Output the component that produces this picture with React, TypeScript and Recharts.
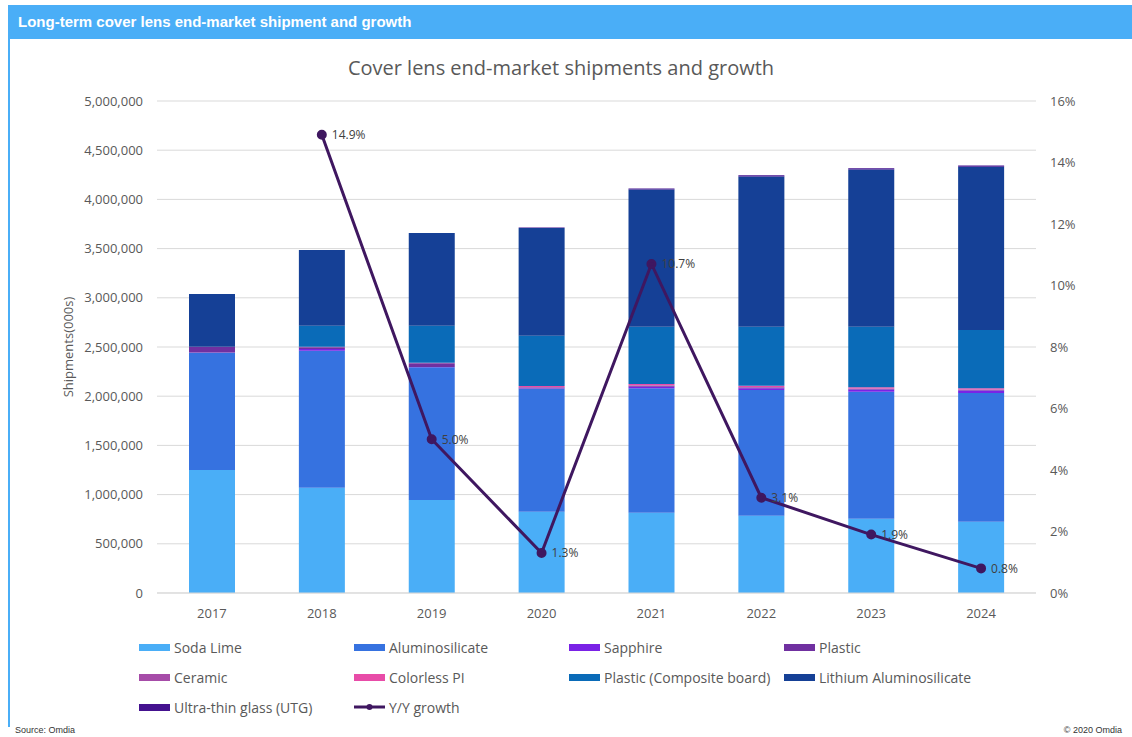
import React from "react";
import {
  ComposedChart,
  Bar,
  Line,
  XAxis,
  YAxis,
  CartesianGrid,
  LabelList,
  Label,
} from "recharts";

// values in thousands of units (000s)
const YEARS = ["2017", "2018", "2019", "2020", "2021", "2022", "2023", "2024"];
const SODA_LIME = [1250000, 1070000, 945000, 825000, 815000, 785000, 755000, 725000];
const ALUMINOSILICATE = [1192000, 1392000, 1349000, 1251000, 1266000, 1278000, 1291000, 1308000];
const SAPPHIRE = [3000, 18000, 4000, 5000, 15000, 18000, 22000, 24000];
const PLASTIC = [55000, 18000, 38000, 8000, 10000, 8000, 6000, 6000];
const CERAMIC = [3000, 4000, 4000, 5000, 5000, 4000, 4000, 4000];
const COLORLESS_PI = [0, 0, 0, 10000, 13000, 14000, 12000, 14000];
const COMPOSITE = [0, 213000, 376000, 511000, 582000, 599000, 616000, 592000];
const LITHIUM = [536000, 770000, 943000, 1095000, 1394000, 1527000, 1599000, 1660000];
const UTG = [0, 0, 0, 5000, 10000, 12000, 12000, 12000];
const GROWTH = [null, 14.9, 5.0, 1.3, 10.7, 3.1, 1.9, 0.8];

const LEFT_TICKS = [0, 500000, 1000000, 1500000, 2000000, 2500000, 3000000, 3500000, 4000000, 4500000, 5000000];
const RIGHT_TICKS = [0, 2, 4, 6, 8, 10, 12, 14, 16];

const SERIES = [
  { key: "sodaLime", name: "Soda Lime", color: "#4aaef7", values: SODA_LIME },
  { key: "alumino", name: "Aluminosilicate", color: "#3672e0", values: ALUMINOSILICATE },
  { key: "sapphire", name: "Sapphire", color: "#7a22e6", values: SAPPHIRE },
  { key: "plastic", name: "Plastic", color: "#7030a0", values: PLASTIC },
  { key: "ceramic", name: "Ceramic", color: "#a64ca8", values: CERAMIC },
  { key: "pi", name: "Colorless PI", color: "#e84ca8", values: COLORLESS_PI },
  { key: "composite", name: "Plastic (Composite board)", color: "#0a6bb8", values: COMPOSITE },
  { key: "lithium", name: "Lithium Aluminosilicate", color: "#154096", values: LITHIUM },
  { key: "utg", name: "Ultra-thin glass (UTG)", color: "#44128f", values: UTG },
];

const LINE_COLOR = "#3f1760";
const FONT = "'Open Sans', sans-serif";
const AXIS_TEXT = "#595959";

const data = YEARS.map((year, i) => {
  const row: Record<string, any> = { year, growth: GROWTH[i] };
  SERIES.forEach((s) => (row[s.key] = s.values[i]));
  return row;
});

function LegendBlock() {
  const items = [
    ...SERIES.map((s) => ({ name: s.name, color: s.color, line: false })),
    { name: "Y/Y growth", color: LINE_COLOR, line: true },
  ];
  return (
    <div
      style={{
        position: "absolute",
        left: 139,
        top: 637,
        width: 880,
        display: "grid",
        gridTemplateColumns: "215px 215px 215px 235px",
        rowGap: 10,
        fontFamily: FONT,
        fontSize: 14,
        color: AXIS_TEXT,
      }}
    >
      {items.map((it) => (
        <div key={it.name} style={{ display: "flex", alignItems: "center", height: 20, whiteSpace: "nowrap" }}>
          {it.line ? (
            <svg width={31} height={10} style={{ marginRight: 4 }}>
              <line x1={0} y1={5} x2={31} y2={5} stroke={it.color} strokeWidth={3} />
              <circle cx={15.5} cy={5} r={3} fill={it.color} />
            </svg>
          ) : (
            <span style={{ width: 31, height: 7, background: it.color, marginRight: 4, display: "inline-block" }} />
          )}
          {it.name}
        </div>
      ))}
    </div>
  );
}

export default function App() {
  return (
    <div style={{ position: "fixed", left: 0, top: 0, width: 1132, height: 737, background: "#fff", overflow: "hidden" }}>
      {/* header band */}
      <div
        style={{
          position: "absolute",
          left: 8,
          top: 5,
          width: 1124,
          height: 34,
          background: "#4aaef7",
          color: "#fff",
          fontFamily: "'Liberation Sans', Arial, sans-serif",
          fontWeight: "bold",
          fontSize: 15,
          lineHeight: "34px",
          paddingLeft: 10,
          boxSizing: "border-box",
        }}
      >
        Long-term cover lens end-market shipment and growth
      </div>
      <div style={{ position: "absolute", left: 8, top: 39, width: 2, height: 688, background: "#4aaef7" }} />

      <div
        style={{
          position: "absolute",
          left: 0,
          width: 1122,
          top: 54,
          textAlign: "center",
          fontFamily: FONT,
          fontSize: 20,
          color: AXIS_TEXT,
        }}
      >
        Cover lens end-market shipments and growth
      </div>

      <div style={{ position: "absolute", left: 0, top: 0 }}>
        <ComposedChart
          width={1132}
          height={640}
          data={data}
          margin={{ top: 101, right: 16, left: 0, bottom: 17 }}
        >
          <CartesianGrid yAxisId="left" vertical={false} stroke="#d9d9d9" />
          <XAxis
            dataKey="year"
            axisLine={{ stroke: "#d9d9d9" }}
            tickLine={false}
            tickMargin={10}
            height={30}
            tick={{ fill: AXIS_TEXT, fontSize: 13, fontFamily: FONT }}
          />
          <YAxis
            yAxisId="left"
            width={157}
            domain={[0, 5000000]}
            ticks={LEFT_TICKS}
            axisLine={false}
            tickLine={false}
            tickSize={0}
            tickMargin={14}
            tickFormatter={(v: number) => v.toLocaleString("en-US")}
            tick={{ fill: AXIS_TEXT, fontSize: 13, fontFamily: FONT }}
          >
            <Label
              value="Shipments(000s)"
              angle={-90}
              position="insideLeft"
              offset={68}
              style={{ textAnchor: "middle", fill: AXIS_TEXT, fontSize: 13, fontFamily: FONT }}
            />
          </YAxis>
          <YAxis
            yAxisId="right"
            orientation="right"
            width={80}
            domain={[0, 16]}
            ticks={RIGHT_TICKS}
            axisLine={false}
            tickLine={false}
            tickSize={0}
            tickMargin={14}
            tickFormatter={(v: number) => `${v}%`}
            tick={{ fill: AXIS_TEXT, fontSize: 13, fontFamily: FONT }}
          />
          {SERIES.map((s) => (
            <Bar
              key={s.key}
              yAxisId="left"
              dataKey={s.key}
              name={s.name}
              stackId="ship"
              fill={s.color}
              barSize={46}
              isAnimationActive={false}
            />
          ))}
          <Line
            yAxisId="right"
            dataKey="growth"
            name="Y/Y growth"
            stroke={LINE_COLOR}
            strokeWidth={3}
            dot={{ r: 3.5, fill: LINE_COLOR, stroke: LINE_COLOR }}
            isAnimationActive={false}
          >
            <LabelList
              dataKey="growth"
              position="right"
              offset={10}
              formatter={(v: any) => (v == null ? "" : `${Number(v).toFixed(1)}%`)}
              style={{ fill: "#404040", fontSize: 12, fontFamily: FONT }}
            />
          </Line>
        </ComposedChart>
      </div>

      <LegendBlock />

      <div style={{ position: "absolute", left: 15, top: 725, fontFamily: "'Liberation Sans', Arial, sans-serif", fontSize: 9, color: "#333" }}>
        Source: Omdia
      </div>
      <div style={{ position: "absolute", right: 10, top: 725, fontFamily: "'Liberation Sans', Arial, sans-serif", fontSize: 9, color: "#333" }}>
        © 2020 Omdia
      </div>
    </div>
  );
}
